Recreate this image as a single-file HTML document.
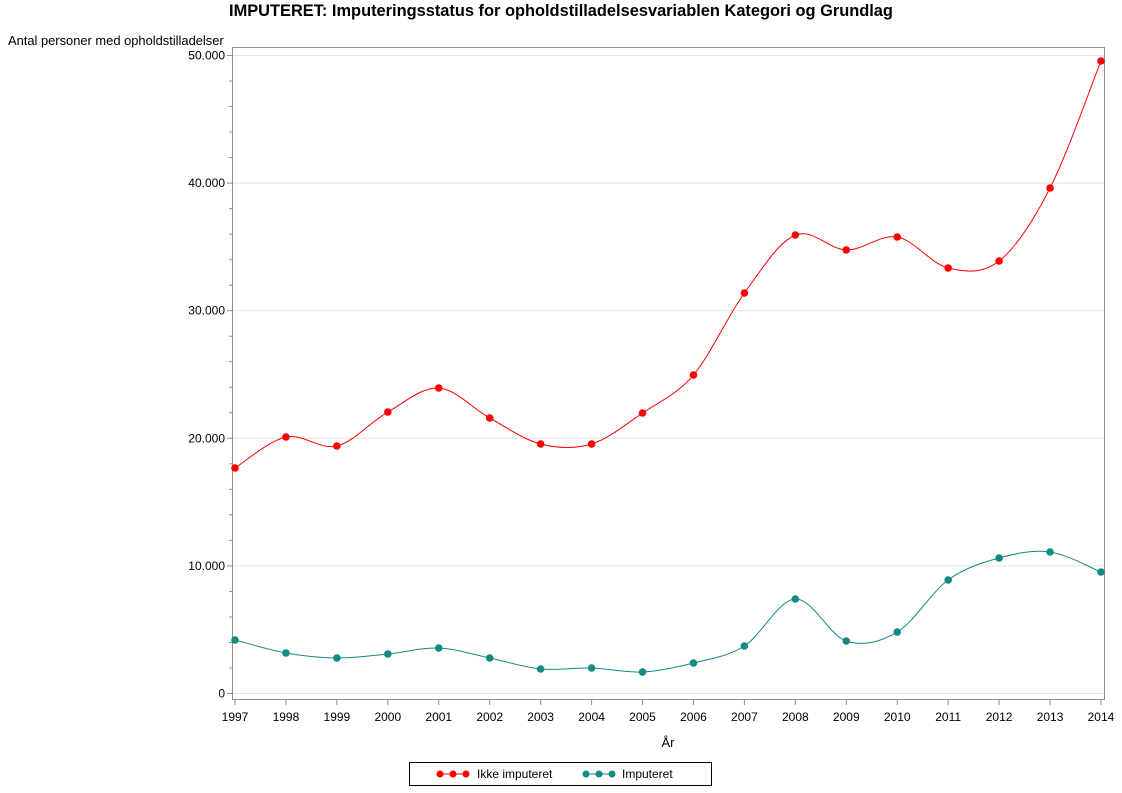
<!DOCTYPE html>
<html><head><meta charset="utf-8"><style>
body{margin:0;background:#fff;}
svg{display:block;font-family:"Liberation Sans",Arial,sans-serif;}
</style></head><body>
<svg id="s" width="1122" height="793" viewBox="0 0 1122 793">
<text x="561" y="16" text-anchor="middle" font-size="16.4" font-weight="bold">IMPUTERET: Imputeringsstatus for opholdstilladelsesvariablen Kategori og Grundlag</text>
<text x="8" y="45" font-size="12.9">Antal personer med opholdstilladelser</text>
<g id="grid"></g>
<rect x="232.5" y="47.5" width="872" height="652" fill="none" stroke="#8a9096"/>
<g id="ticks" stroke="#8a9096"></g>
<g id="lab" font-size="12"></g>
<text x="668" y="747" text-anchor="middle" font-size="13">År</text>
<g id="ser"></g>
<rect x="409.5" y="762.5" width="302" height="23" fill="none" stroke="#000"/>
<line x1="437" y1="774" x2="469" y2="774" stroke="#f00"/>
<circle cx="440" cy="774" r="3.5" fill="#f00"/><circle cx="453" cy="774" r="3.5" fill="#f00"/><circle cx="466" cy="774" r="3.5" fill="#f00"/>
<text x="477" y="778" font-size="12">Ikke imputeret</text>
<line x1="584" y1="774" x2="614" y2="774" stroke="#138a82"/>
<circle cx="586" cy="774" r="3.5" fill="#138a82"/><circle cx="599" cy="774" r="3.5" fill="#138a82"/><circle cx="612" cy="774" r="3.5" fill="#138a82"/>
<text x="622" y="778" font-size="12">Imputeret</text>
</svg>
<script>
const NS="http://www.w3.org/2000/svg";
function el(p,t,a,txt){const e=document.createElementNS(NS,t);for(const k in a)e.setAttribute(k,a[k]);if(txt!=null)e.textContent=txt;document.getElementById(p).appendChild(e);return e;}
const y0=693.5,py=127.6/10000;
const Y=v=>y0-v*py;
for(let v=0;v<=50000;v+=2000){const y=Y(v);const maj=v%10000==0;
 el("ticks","line",{x1:maj?227:229,x2:232,y1:y,y2:y});
 if(maj){el("grid","line",{x1:233,x2:1104,y1:y,y2:y,stroke:"#e4e4e4"});
 el("lab","text",{x:225,y:y+4,"text-anchor":"end"},v==0?"0":(v/1000)+".000");}}
const X=i=>235+i*50.94;
for(let i=0;i<18;i++){el("ticks","line",{x1:X(i),x2:X(i),y1:700,y2:705});
 el("lab","text",{x:X(i),y:721,"text-anchor":"middle"},String(1997+i));}
const red=[468,437,446,412,388,418,444,444,413,375,293,235,250,237,268,261,188,61];
const teal=[640,653,658,654,648,658,669,668,672,663,646,599,641,632,580,558,552,572];
function path(ys,c){const p=ys.map((y,i)=>[X(i),y]);let d="M"+p[0];
 for(let i=0;i<p.length-1;i++){const a=p[i-1]||p[i],b=p[i],c2=p[i+1],e=p[i+2]||c2;
  d+=" C"+(b[0]+(c2[0]-a[0])/6)+","+(b[1]+(c2[1]-a[1])/6)+" "+(c2[0]-(e[0]-b[0])/6)+","+(c2[1]-(e[1]-b[1])/6)+" "+c2;}
 el("ser","path",{d:d,fill:"none",stroke:c,"stroke-width":1});
 p.forEach(q=>el("ser","circle",{cx:q[0],cy:q[1],r:3.8,fill:c}));}
path(red,"#f00");path(teal,"#138a82");
</script>
</body></html>
